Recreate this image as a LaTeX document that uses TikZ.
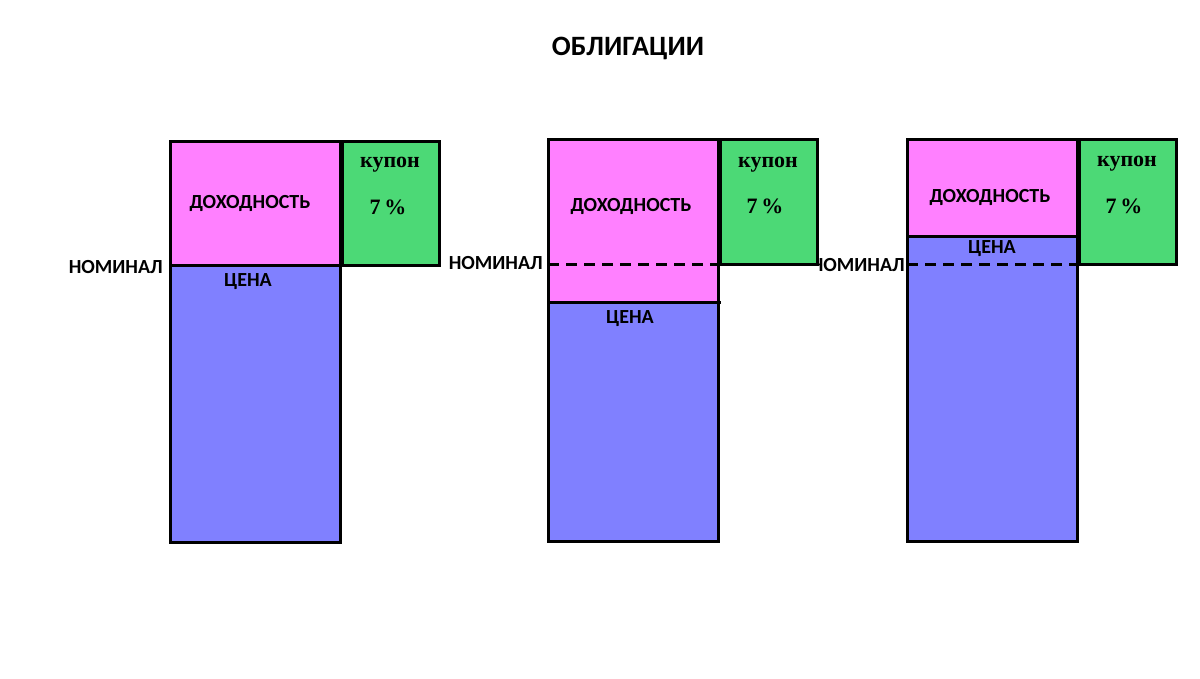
\documentclass[tikz,border=0pt]{standalone}
\usepackage{fontspec}
\setmainfont{Liberation Serif}
\newfontfamily\labelfont{Carlito}
\usetikzlibrary{positioning}
\definecolor{yieldpink}{RGB}{255,128,255}
\definecolor{pricelilac}{RGB}{128,128,255}
\definecolor{coupongreen}{RGB}{76,217,118}

\begin{document}
\begin{tikzpicture}[x=1pt, y=-1pt,
  edge/.style={line width=3pt, black},
  nomline/.style={line width=3pt, black, dash pattern=on 11pt off 7pt},
  caps/.style={font=\labelfont\bfseries\fontsize{20}{20}\selectfont, inner sep=0pt},
  couponfont/.style={font=\bfseries\fontsize{22}{22}\selectfont, inner sep=0pt}]

\useasboundingbox[fill=white] (0,0) rectangle (1200,678);

\node[font=\labelfont\bfseries\fontsize{28}{28}\selectfont] (title) at (628,48) {ОБЛИГАЦИИ};

% первая облигация: цена = номинал
\fill[yieldpink] (170,141) rectangle (340,265);
\fill[pricelilac] (170,265) rectangle (340,542);
\draw[edge] (170,141) rectangle (340,542);
\draw[edge] (170,265) -- (340,265);
\fill[coupongreen] (342,141) rectangle (439,265);
\draw[edge] (342,141) rectangle (439,265);
\node[caps] (yield1) at (250,203) {ДОХОДНОСТЬ};
\node[caps] (price1) at (248,282) {ЦЕНА};
\node[couponfont] (coupon1) at (390,165) {купон};
\node[couponfont] (rate1) at (388,207) {7\,\%};
\node[caps, anchor=east] (nom1) at (163,267) {НОМИНАЛ};

% вторая облигация: цена ниже номинала
\fill[yieldpink] (548,139) rectangle (718,302);
\fill[pricelilac] (548,302) rectangle (718,541);
\draw[edge] (548,139) rectangle (718,541);
\draw[edge] (548,302) -- (721,302);
\node[caps, anchor=east] (nom2) at (543,263) {НОМИНАЛ};
\draw[nomline] (nom2.east) ++(5,1) coordinate (n2a) -- (n2a -| 718,0);
\node[caps] (yield2) at (631,206) {ДОХОДНОСТЬ};
\node[caps] (price2) at (630,319) {ЦЕНА};

% третья облигация: цена выше номинала
\begin{scope}
\clip (816,240) rectangle (907,290);
\node[caps, anchor=east] (nom3) at (905,265) {НОМИНАЛ};
\end{scope}
\fill[coupongreen] (720,139) rectangle (817,264);
\draw[edge] (720,139) rectangle (817,264);
\node[couponfont] (coupon2) at (768,165) {купон};
\node[couponfont] (rate2) at (765,206) {7\,\%};

\fill[yieldpink] (907,139) rectangle (1077,236);
\fill[pricelilac] (907,236) rectangle (1077,541);
\draw[edge] (907,139) rectangle (1077,541);
\draw[edge] (907,236) -- (1077,236);
\draw[nomline] (907,264) -- (1077,264);
\fill[coupongreen] (1079,139) rectangle (1176,264);
\draw[edge] (1079,139) rectangle (1176,264);
\node[caps] (yield3) at (990,197) {ДОХОДНОСТЬ};
\node[caps] (price3) at (992,249) {ЦЕНА};
\node[couponfont] (coupon3) at (1127,164) {купон};
\node[couponfont] (rate3) at (1124,206) {7\,\%};

\end{tikzpicture}
\end{document}
